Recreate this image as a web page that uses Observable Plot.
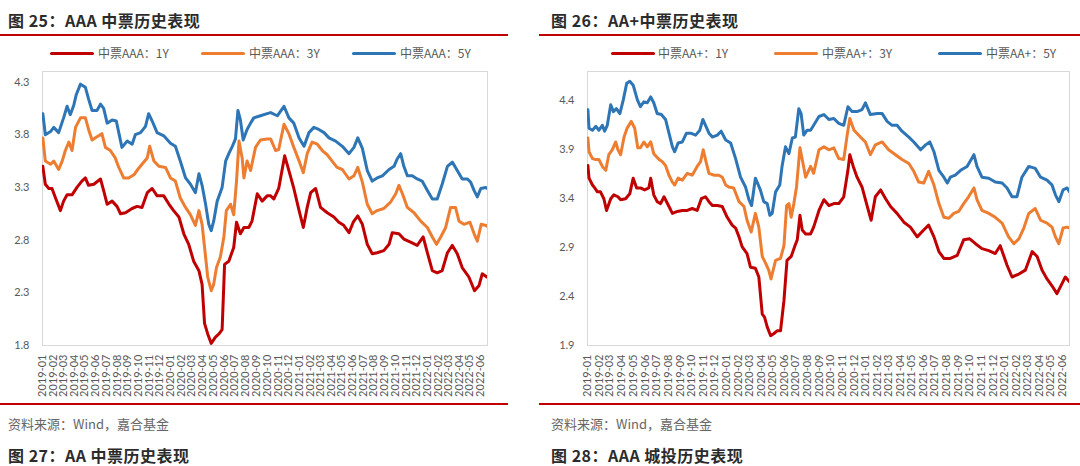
<!DOCTYPE html>
<html>
<head>
<meta charset="utf-8">
<script src="https://cdn.jsdelivr.net/npm/d3@7"></script>
<script src="https://cdn.jsdelivr.net/npm/@observablehq/plot@0.6"></script>
<style>
  html, body { margin: 0; padding: 0; background: #fff; }
  #page { position: relative; width: 1080px; height: 466px; overflow: hidden; background: #fff;
          font-family: "Noto Sans CJK SC", "Noto Sans", sans-serif; }
  .title { position: absolute; font-size: 16px; line-height: 18px; font-weight: 700; color: #2b2b2b; white-space: nowrap; letter-spacing: 0.5px; }
  .rule { position: absolute; height: 2px; background: #C00000; }
  .src { position: absolute; font-size: 13px; line-height: 16px; color: #666; white-space: nowrap; }
  .lg-sw { position: absolute; height: 3px; border-radius: 1.5px; }
  .lg-tx { position: absolute; font-size: 12px; line-height: 14px; color: #595959; white-space: nowrap; }
  .chart { position: absolute; top: 60px; }
</style>
</head>
<body>
<div id="page"></div>
<script>
// ---------------- data ----------------
const xTickLabels = ["2019-01","2019-02","2019-03","2019-04","2019-05","2019-06","2019-07","2019-08","2019-09","2019-10","2019-11","2019-12",
  "2020-01","2020-02","2020-03","2020-04","2020-05","2020-06","2020-07","2020-08","2020-09","2020-10","2020-11","2020-12",
  "2021-01","2021-02","2021-03","2021-04","2021-05","2021-06","2021-07","2021-08","2021-09","2021-10","2021-11","2021-12",
  "2022-01","2022-02","2022-03","2022-04","2022-05","2022-06"];
const dateRange = ["2019-01-01", "2022-06-20"];

const aaaNames = ["中票AAA：1Y", "中票AAA：3Y", "中票AAA：5Y"];
const aapNames = ["中票AA+：1Y", "中票AA+：3Y", "中票AA+：5Y"];
const seriesColors = ["#C00000", "#ED7D31", "#2E75B6"];

const aaaYTicks = [1.8, 2.3, 2.8, 3.3, 3.8, 4.3];
const aapYTicks = [1.9, 2.4, 2.9, 3.4, 3.9, 4.4];

const aaa1Y = [["2019-01-02",3.50],["2019-01-09",3.33],["2019-01-19",3.29],["2019-01-28",3.29],["2019-02-07",3.20],["2019-02-21",3.08],["2019-03-02",3.17],["2019-03-12",3.23],["2019-03-26",3.23],["2019-04-09",3.30],["2019-04-23",3.36],["2019-05-03",3.39],["2019-05-12",3.32],["2019-05-27",3.33],["2019-06-15",3.38],["2019-06-24",3.27],["2019-07-04",3.14],["2019-07-18",3.17],["2019-08-01",3.12],["2019-08-11",3.05],["2019-08-25",3.06],["2019-09-13",3.10],["2019-09-27",3.12],["2019-10-11",3.11],["2019-10-26",3.25],["2019-11-09",3.29],["2019-11-23",3.22],["2019-12-12",3.22],["2019-12-27",3.14],["2020-01-09",3.08],["2020-01-24",3.02],["2020-02-07",2.86],["2020-02-21",2.76],["2020-03-06",2.60],["2020-03-21",2.51],["2020-03-30",2.38],["2020-04-06",2.01],["2020-04-15",1.91],["2020-04-25",1.82],["2020-05-07",1.88],["2020-05-17",1.91],["2020-05-26",1.95],["2020-06-02",2.57],["2020-06-14",2.60],["2020-06-28",2.73],["2020-07-06",2.97],["2020-07-17",2.86],["2020-07-27",2.92],["2020-08-10",2.92],["2020-08-19",2.98],["2020-09-03",3.24],["2020-09-17",3.17],["2020-10-01",3.22],["2020-10-11",3.22],["2020-10-20",3.19],["2020-11-03",3.29],["2020-11-20",3.60],["2020-12-02",3.46],["2020-12-16",3.29],["2020-12-31",3.08],["2021-01-12",2.92],["2021-01-23",3.11],["2021-02-02",3.25],["2021-02-16",3.29],["2021-03-02",3.11],["2021-03-21",3.06],["2021-04-09",3.02],["2021-04-23",2.97],["2021-05-07",2.94],["2021-05-22",2.87],["2021-06-03",2.97],["2021-06-16",3.03],["2021-06-29",2.95],["2021-07-13",2.76],["2021-07-27",2.67],["2021-08-10",2.68],["2021-08-29",2.70],["2021-09-13",2.76],["2021-09-22",2.87],["2021-10-11",2.86],["2021-10-25",2.81],["2021-11-13",2.78],["2021-12-02",2.75],["2021-12-19",2.83],["2021-12-31",2.68],["2022-01-14",2.51],["2022-01-28",2.49],["2022-02-11",2.51],["2022-02-26",2.68],["2022-03-12",2.75],["2022-03-26",2.67],["2022-04-09",2.54],["2022-04-28",2.45],["2022-05-14",2.32],["2022-05-27",2.37],["2022-06-05",2.48],["2022-06-18",2.45]];

const aaa3Y = [["2019-01-02",3.77],["2019-01-09",3.55],["2019-01-24",3.52],["2019-02-02",3.55],["2019-02-16",3.47],["2019-02-26",3.55],["2019-03-07",3.65],["2019-03-17",3.73],["2019-03-26",3.65],["2019-04-05",3.87],["2019-04-19",3.96],["2019-05-03",3.96],["2019-05-12",3.85],["2019-05-22",3.75],["2019-06-05",3.78],["2019-06-19",3.81],["2019-06-29",3.68],["2019-07-13",3.65],["2019-07-27",3.58],["2019-08-06",3.49],["2019-08-20",3.39],["2019-09-03",3.39],["2019-09-18",3.42],["2019-09-29",3.47],["2019-10-11",3.52],["2019-10-26",3.58],["2019-11-02",3.69],["2019-11-14",3.55],["2019-11-28",3.50],["2019-12-17",3.49],["2019-12-31",3.39],["2020-01-14",3.36],["2020-01-28",3.20],["2020-02-12",3.11],["2020-02-26",3.04],["2020-03-11",2.94],["2020-03-21",3.08],["2020-03-30",2.95],["2020-04-09",2.64],["2020-04-15",2.45],["2020-04-25",2.32],["2020-05-02",2.38],["2020-05-10",2.54],["2020-05-21",2.64],["2020-05-31",2.83],["2020-06-07",3.08],["2020-06-19",3.14],["2020-06-28",3.04],["2020-07-06",3.36],["2020-07-13",3.74],["2020-07-22",3.58],["2020-07-27",3.39],["2020-08-05",3.55],["2020-08-15",3.46],["2020-08-29",3.68],["2020-09-12",3.75],["2020-10-01",3.76],["2020-10-11",3.76],["2020-10-25",3.65],["2020-11-03",3.66],["2020-11-18",3.90],["2020-12-02",3.81],["2020-12-16",3.68],["2020-12-31",3.55],["2021-01-12",3.44],["2021-01-23",3.62],["2021-02-06",3.73],["2021-02-21",3.71],["2021-03-07",3.65],["2021-03-21",3.61],["2021-04-04",3.55],["2021-04-18",3.49],["2021-05-03",3.47],["2021-05-22",3.38],["2021-06-05",3.41],["2021-06-16",3.49],["2021-06-29",3.35],["2021-07-13",3.14],["2021-07-27",3.05],["2021-08-10",3.08],["2021-08-29",3.10],["2021-09-17",3.16],["2021-10-02",3.24],["2021-10-11",3.32],["2021-10-21",3.24],["2021-11-04",3.11],["2021-11-23",3.06],["2021-12-12",2.98],["2021-12-31",2.92],["2022-01-14",2.83],["2022-01-26",2.76],["2022-02-07",2.83],["2022-02-21",2.92],["2022-03-07",3.11],["2022-03-21",3.11],["2022-03-31",2.98],["2022-04-14",2.95],["2022-05-01",2.97],["2022-05-13",2.86],["2022-05-22",2.79],["2022-06-02",2.95],["2022-06-15",2.94],["2022-06-20",2.93]];

const aaa5Y = [["2019-01-02",4.00],["2019-01-09",3.80],["2019-01-24",3.83],["2019-02-02",3.87],["2019-02-16",3.82],["2019-03-02",3.96],["2019-03-12",4.07],["2019-03-21",3.99],["2019-03-31",4.08],["2019-04-07",4.18],["2019-04-19",4.28],["2019-05-03",4.25],["2019-05-12",4.14],["2019-05-22",4.03],["2019-06-05",4.03],["2019-06-15",4.09],["2019-06-24",4.05],["2019-07-04",3.91],["2019-07-18",3.94],["2019-07-30",3.93],["2019-08-06",3.82],["2019-08-15",3.68],["2019-08-30",3.74],["2019-09-13",3.71],["2019-09-22",3.80],["2019-10-07",3.82],["2019-10-21",3.88],["2019-10-30",4.00],["2019-11-09",3.93],["2019-11-23",3.82],["2019-12-12",3.79],["2019-12-31",3.72],["2020-01-14",3.69],["2020-01-28",3.55],["2020-02-12",3.39],["2020-02-26",3.33],["2020-03-11",3.25],["2020-03-21",3.43],["2020-03-30",3.32],["2020-04-09",3.14],["2020-04-18",2.95],["2020-04-25",2.89],["2020-05-02",2.98],["2020-05-12",3.17],["2020-05-26",3.30],["2020-06-05",3.55],["2020-06-14",3.62],["2020-06-24",3.69],["2020-07-03",3.76],["2020-07-10",4.03],["2020-07-17",3.94],["2020-07-25",3.75],["2020-08-05",3.85],["2020-08-15",3.91],["2020-08-24",3.96],["2020-09-12",3.98],["2020-10-01",4.00],["2020-10-11",4.01],["2020-10-30",3.98],["2020-11-18",4.07],["2020-12-02",3.96],["2020-12-16",3.91],["2020-12-31",3.77],["2021-01-14",3.69],["2021-01-28",3.82],["2021-02-11",3.87],["2021-02-25",3.85],["2021-03-12",3.82],["2021-03-26",3.77],["2021-04-14",3.74],["2021-05-03",3.69],["2021-05-22",3.62],["2021-06-05",3.68],["2021-06-16",3.77],["2021-06-29",3.67],["2021-07-13",3.46],["2021-07-27",3.36],["2021-08-10",3.39],["2021-08-25",3.41],["2021-09-13",3.47],["2021-09-27",3.50],["2021-10-06",3.57],["2021-10-16",3.62],["2021-10-25",3.50],["2021-11-04",3.41],["2021-11-18",3.41],["2021-12-02",3.38],["2021-12-16",3.36],["2021-12-31",3.27],["2022-01-14",3.19],["2022-01-28",3.19],["2022-02-11",3.33],["2022-02-26",3.50],["2022-03-12",3.54],["2022-03-26",3.46],["2022-04-09",3.38],["2022-04-24",3.38],["2022-05-03",3.35],["2022-05-13",3.27],["2022-05-22",3.21],["2022-06-01",3.29],["2022-06-15",3.30],["2022-06-20",3.29]];

const aap1Y = [["2019-01-02",3.74],["2019-01-05",3.61],["2019-01-14",3.54],["2019-01-20",3.51],["2019-01-27",3.47],["2019-02-04",3.47],["2019-02-13",3.40],["2019-02-20",3.28],["2019-03-03",3.40],["2019-03-11",3.44],["2019-03-22",3.42],["2019-03-29",3.39],["2019-04-11",3.40],["2019-04-22",3.45],["2019-05-01",3.61],["2019-05-10",3.51],["2019-05-20",3.51],["2019-05-31",3.49],["2019-06-11",3.51],["2019-06-16",3.61],["2019-06-24",3.44],["2019-07-03",3.37],["2019-07-12",3.35],["2019-07-21",3.42],["2019-08-03",3.32],["2019-08-12",3.25],["2019-08-25",3.27],["2019-09-07",3.28],["2019-09-20",3.28],["2019-10-03",3.30],["2019-10-16",3.28],["2019-10-27",3.40],["2019-11-07",3.42],["2019-11-16",3.37],["2019-11-25",3.33],["2019-12-08",3.33],["2019-12-21",3.32],["2020-01-03",3.21],["2020-01-16",3.13],["2020-01-25",3.10],["2020-02-03",3.01],["2020-02-11",2.91],["2020-02-24",2.84],["2020-03-04",2.70],["2020-03-17",2.69],["2020-03-26",2.60],["2020-04-04",2.22],["2020-04-10",2.19],["2020-04-17",2.09],["2020-04-26",2.00],["2020-05-04",2.02],["2020-05-13",2.05],["2020-05-22",2.05],["2020-05-31",2.36],["2020-06-08",2.77],["2020-06-19",2.81],["2020-06-28",2.91],["2020-07-05",2.98],["2020-07-12",3.23],["2020-07-18",3.08],["2020-07-27",3.04],["2020-08-09",3.04],["2020-08-17",3.11],["2020-08-31",3.28],["2020-09-13",3.39],["2020-09-26",3.33],["2020-10-09",3.35],["2020-10-22",3.35],["2020-11-04",3.42],["2020-11-15",3.69],["2020-11-20",3.85],["2020-11-29",3.73],["2020-12-09",3.62],["2020-12-22",3.52],["2021-01-05",3.32],["2021-01-15",3.18],["2021-01-26",3.42],["2021-02-09",3.49],["2021-02-22",3.40],["2021-03-07",3.32],["2021-03-24",3.25],["2021-04-11",3.16],["2021-04-28",3.11],["2021-05-16",3.01],["2021-06-02",3.08],["2021-06-15",3.13],["2021-06-29",3.01],["2021-07-12",2.86],["2021-07-25",2.79],["2021-08-11",2.79],["2021-08-29",2.82],["2021-09-15",2.98],["2021-10-01",2.99],["2021-10-16",2.94],["2021-11-02",2.89],["2021-11-20",2.87],["2021-12-07",2.84],["2021-12-20",2.92],["2022-01-07",2.72],["2022-01-20",2.60],["2022-02-07",2.63],["2022-02-24",2.67],["2022-03-14",2.86],["2022-03-27",2.81],["2022-04-09",2.67],["2022-04-22",2.58],["2022-05-05",2.51],["2022-05-18",2.43],["2022-05-31",2.53],["2022-06-09",2.60],["2022-06-20",2.55]];

const aap3Y = [["2019-01-02",4.02],["2019-01-05",3.88],["2019-01-14",3.81],["2019-01-23",3.80],["2019-01-31",3.80],["2019-02-09",3.73],["2019-02-18",3.69],["2019-02-26",3.85],["2019-03-07",3.90],["2019-03-16",3.98],["2019-03-22",3.90],["2019-03-29",3.85],["2019-04-07",4.03],["2019-04-15",4.12],["2019-04-26",4.19],["2019-05-05",4.12],["2019-05-13",3.92],["2019-05-20",3.92],["2019-05-29",3.98],["2019-06-07",3.93],["2019-06-16",3.98],["2019-06-24",3.86],["2019-07-08",3.80],["2019-07-16",3.78],["2019-07-25",3.74],["2019-08-03",3.64],["2019-08-12",3.57],["2019-08-18",3.54],["2019-08-27",3.61],["2019-09-07",3.59],["2019-09-20",3.66],["2019-10-03",3.64],["2019-10-16",3.73],["2019-10-25",3.78],["2019-11-01",3.90],["2019-11-07",3.80],["2019-11-16",3.66],["2019-11-29",3.64],["2019-12-12",3.64],["2019-12-21",3.62],["2019-12-30",3.54],["2020-01-07",3.52],["2020-01-20",3.51],["2020-02-03",3.37],["2020-02-16",3.32],["2020-02-24",3.18],["2020-03-06",3.06],["2020-03-17",3.25],["2020-03-26",3.11],["2020-04-04",2.81],["2020-04-13",2.74],["2020-04-21",2.67],["2020-04-27",2.58],["2020-05-09",2.77],["2020-05-22",2.79],["2020-05-31",2.92],["2020-06-07",3.33],["2020-06-13",3.35],["2020-06-19",3.21],["2020-06-26",3.35],["2020-07-03",3.52],["2020-07-12",3.92],["2020-07-18",3.80],["2020-07-27",3.62],["2020-08-09",3.73],["2020-08-17",3.66],["2020-08-31",3.90],["2020-09-13",3.93],["2020-09-26",3.90],["2020-10-09",3.92],["2020-10-22",3.81],["2020-11-04",3.80],["2020-11-13",4.05],["2020-11-20",4.22],["2020-12-01",4.10],["2020-12-18",4.03],["2020-12-31",3.98],["2021-01-13",3.85],["2021-01-26",3.95],["2021-02-13",3.98],["2021-03-02",3.90],["2021-03-20",3.85],["2021-04-06",3.80],["2021-04-24",3.76],["2021-05-07",3.68],["2021-05-20",3.57],["2021-06-02",3.56],["2021-06-15",3.68],["2021-06-29",3.54],["2021-07-12",3.35],["2021-07-25",3.21],["2021-08-07",3.20],["2021-08-20",3.25],["2021-09-02",3.27],["2021-09-15",3.35],["2021-09-28",3.42],["2021-10-12",3.51],["2021-10-20",3.39],["2021-11-02",3.28],["2021-11-20",3.25],["2021-12-07",3.21],["2021-12-25",3.15],["2022-01-11",3.01],["2022-01-25",2.94],["2022-02-07",2.99],["2022-02-20",3.10],["2022-03-05",3.25],["2022-03-22",3.30],["2022-04-05",3.18],["2022-04-22",3.15],["2022-05-05",3.11],["2022-05-14",3.01],["2022-05-23",2.94],["2022-06-03",3.10],["2022-06-14",3.11],["2022-06-20",3.10]];

const aap5Y = [["2019-01-02",4.31],["2019-01-05",4.12],["2019-01-14",4.10],["2019-01-23",4.14],["2019-01-31",4.10],["2019-02-09",4.15],["2019-02-15",4.09],["2019-02-22",4.15],["2019-03-03",4.36],["2019-03-10",4.29],["2019-03-18",4.32],["2019-03-27",4.27],["2019-04-05",4.41],["2019-04-14",4.58],["2019-04-22",4.60],["2019-05-01",4.56],["2019-05-12",4.41],["2019-05-20",4.34],["2019-05-29",4.39],["2019-06-07",4.38],["2019-06-16",4.44],["2019-06-24",4.38],["2019-07-03",4.27],["2019-07-14",4.26],["2019-07-25",4.21],["2019-08-03",4.07],["2019-08-12",3.93],["2019-08-18",3.88],["2019-08-27",3.97],["2019-09-07",3.98],["2019-09-18",4.07],["2019-09-29",4.07],["2019-10-12",4.05],["2019-10-23",4.10],["2019-10-31",4.21],["2019-11-07",4.15],["2019-11-16",4.07],["2019-11-25",4.03],["2019-12-08",4.05],["2019-12-18",4.09],["2019-12-30",4.00],["2020-01-12",3.97],["2020-01-25",3.81],["2020-02-07",3.62],["2020-02-20",3.52],["2020-02-29",3.39],["2020-03-07",3.33],["2020-03-17",3.61],["2020-03-30",3.49],["2020-04-08",3.37],["2020-04-17",3.35],["2020-04-24",3.23],["2020-04-30",3.25],["2020-05-09",3.47],["2020-05-20",3.54],["2020-05-26",3.73],["2020-06-04",3.93],["2020-06-13",3.86],["2020-06-22",4.02],["2020-06-30",4.03],["2020-07-09",4.32],["2020-07-15",4.27],["2020-07-22",4.05],["2020-07-31",4.10],["2020-08-09",4.10],["2020-08-17",4.15],["2020-08-31",4.24],["2020-09-13",4.26],["2020-09-26",4.21],["2020-10-09",4.22],["2020-10-22",4.17],["2020-11-04",4.15],["2020-11-15",4.34],["2020-11-26",4.29],["2020-12-09",4.29],["2020-12-22",4.31],["2020-12-31",4.38],["2021-01-13",4.26],["2021-01-31",4.27],["2021-02-13",4.27],["2021-02-26",4.19],["2021-03-11",4.15],["2021-03-24",4.15],["2021-04-06",4.09],["2021-04-24",4.03],["2021-05-07",3.98],["2021-05-25",3.90],["2021-06-07",3.95],["2021-06-18",3.98],["2021-06-29",3.88],["2021-07-12",3.69],["2021-07-25",3.62],["2021-08-03",3.56],["2021-08-11",3.62],["2021-08-24",3.64],["2021-09-07",3.69],["2021-09-24",3.73],["2021-10-12",3.85],["2021-10-20",3.73],["2021-11-02",3.62],["2021-11-20",3.61],["2021-12-07",3.57],["2021-12-25",3.56],["2022-01-07",3.51],["2022-01-20",3.42],["2022-02-02",3.42],["2022-02-15",3.62],["2022-03-05",3.73],["2022-03-22",3.71],["2022-04-05",3.62],["2022-04-22",3.59],["2022-05-05",3.54],["2022-05-14",3.44],["2022-05-23",3.37],["2022-06-03",3.49],["2022-06-14",3.51],["2022-06-20",3.47]];

// ---------------- helpers ----------------
const parseDay = d3.utcParse("%Y-%m-%d");
const parseMonth = d3.utcParse("%Y-%m");
const xTicks = xTickLabels.map(parseMonth);
const xDomain = dateRange.map(parseDay);

const page = document.getElementById("page");
function el(cls, style, text) {
  const d = document.createElement("div");
  d.className = cls;
  Object.assign(d.style, style);
  if (text != null) d.textContent = text;
  page.appendChild(d);
  return d;
}

function makeChart(names, seriesList, yDomain, yTicks, width, marginLeft, marginRight) {
  const rows = [];
  seriesList.forEach((s, i) => s.forEach(([d, v]) => rows.push({date: parseDay(d), value: v, key: names[i]})));
  return Plot.plot({
    width, height: 340,
    marginTop: 11, marginBottom: 55, marginLeft, marginRight,
    style: {fontFamily: "Lato, 'Noto Sans', sans-serif", fontSize: "11px", color: "#595959", background: "white", overflow: "visible"},
    x: {type: "utc", domain: xDomain, ticks: xTicks, tickFormat: d3.utcFormat("%Y-%m"),
        tickRotate: -90, tickSize: 0, tickPadding: 9, label: null},
    y: {domain: yDomain, ticks: yTicks, tickFormat: d => d.toFixed(1), tickSize: 0, tickPadding: 13, label: null},
    color: {domain: names, range: seriesColors},
    marks: [
      Plot.frame({stroke: "#D9D9D9"}),
      Plot.line(rows, {x: "date", y: "value", z: "key", stroke: "key", strokeWidth: 3, strokeLinejoin: "round", clip: true})
    ]
  });
}

// ---------------- left panel ----------------
el("title", {left: "8px", top: "11px"}, "图 25：AAA 中票历史表现");
el("rule", {left: "0px", top: "34px", width: "508px"});
[[50, 98], [201, 249], [352, 400]].forEach(([sx, tx], i) => {
  el("lg-sw", {left: sx + "px", top: "52px", width: "44px", background: seriesColors[i]});
  el("lg-tx", {left: tx + "px", top: "46px"}, aaaNames[i]);
});
const c1 = makeChart(aaaNames, [aaa1Y, aaa3Y, aaa5Y], [1.8, 4.4], aaaYTicks, 508, 42, 21);
c1.classList.add("chart"); c1.style.left = "0px";
page.appendChild(c1);
el("rule", {left: "0px", top: "403px", width: "508px"});
el("src", {left: "8px", top: "416px"}, "资料来源：Wind，嘉合基金");
el("title", {left: "8px", top: "446px"}, "图 27：AA 中票历史表现");

// ---------------- right panel ----------------
el("title", {left: "551px", top: "11px"}, "图 26：AA+中票历史表现");
el("rule", {left: "539px", top: "34px", width: "541px"});
[[611, 658], [774, 822], [938, 986]].forEach(([sx, tx], i) => {
  el("lg-sw", {left: sx + "px", top: "52px", width: "44px", background: seriesColors[i]});
  el("lg-tx", {left: tx + "px", top: "46px"}, aapNames[i]);
});
const c2 = makeChart(aapNames, [aap1Y, aap3Y, aap5Y], [1.9, 4.7], aapYTicks, 540, 47, 11);
c2.classList.add("chart"); c2.style.left = "540px";
page.appendChild(c2);
el("rule", {left: "539px", top: "403px", width: "541px"});
el("src", {left: "551px", top: "416px"}, "资料来源：Wind，嘉合基金");
el("title", {left: "551px", top: "446px"}, "图 28：AAA 城投历史表现");
</script>
</body>
</html>
